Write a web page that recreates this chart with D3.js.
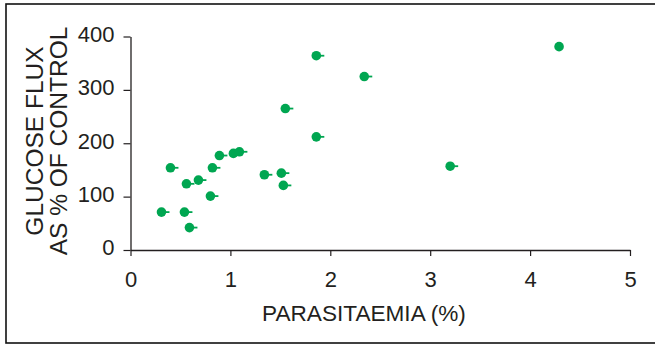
<!DOCTYPE html>
<html>
<head>
<meta charset="utf-8">
<script src="https://cdn.jsdelivr.net/npm/d3@7"></script>
<style>
  html, body { margin: 0; padding: 0; background: #fff; }
  svg { display: block; }
  text { font-family: "Liberation Sans", Arial, Helvetica, sans-serif; fill: #231f20; }
</style>
</head>
<body>
<svg id="chart" width="655" height="345"></svg>
<script>
// Parasitaemia (%) against glucose flux (% of control)
const parasitaemia = [0.31, 0.40, 0.54, 0.56, 0.59, 0.68, 0.80, 0.82, 0.89, 1.03, 1.09, 1.34, 1.51, 1.53, 1.55, 1.86, 1.86, 2.34, 3.20, 4.29];
const glucoseFlux  = [71, 154, 71, 124, 42, 131, 101, 154, 177, 181, 184, 141, 144, 121, 265, 364, 212, 325, 157, 381];
// one-sided horizontal error bars (parasitaemia, %)
const parasitaemiaErr = [0.08, 0.08, 0.08, 0.08, 0.08, 0.08, 0.08, 0.08, 0.08, 0.08, 0.08, 0.08, 0.08, 0.08, 0.08, 0.08, 0.08, 0.08, 0.08, 0];
const xTicks = [0, 1, 2, 3, 4, 5];
const yTicks = [0, 100, 200, 300, 400];
const xTitle = "PARASITAEMIA (%)";
const yTitle = ["GLUCOSE FLUX", "AS % OF CONTROL"];

const ink = "#231f20";
const green = "#00a651";

const svg = d3.select("#chart");

// outer frame
svg.append("rect")
  .attr("x", 6).attr("y", 4)
  .attr("width", 652).attr("height", 339)
  .attr("fill", "none").attr("stroke", "#111").attr("stroke-width", 1.6);

const x = d3.scaleLinear().domain([0, 5]).range([130.5, 630]);
const y = d3.scaleLinear().domain([0, 400]).range([250, 36.5]);

// x axis
const gx = svg.append("g").attr("transform", `translate(0,${y(0)})`)
  .call(d3.axisBottom(x).tickValues(xTicks).tickFormat(d3.format("d")).tickSize(6).tickSizeOuter(0).tickPadding(16));
// y axis
const gy = svg.append("g").attr("transform", `translate(${x(0)},0)`)
  .call(d3.axisLeft(y).tickValues(yTicks).tickSize(7).tickSizeOuter(0).tickPadding(9));

[gx, gy].forEach(g => {
  g.select(".domain").attr("stroke", ink).attr("stroke-width", 1.3);
  g.selectAll(".tick line").attr("stroke", ink).attr("stroke-width", 1.2);
  g.selectAll(".tick text")
    .attr("font-family", "Liberation Sans, Arial, sans-serif")
    .attr("font-size", 22).attr("fill", ink);
});
gy.selectAll(".tick text").attr("dy", "0.22em");
gx.selectAll(".tick text").attr("dy", "0.7em");

// axis titles
svg.append("text")
  .attr("x", 364).attr("y", 320.5)
  .attr("text-anchor", "middle")
  .attr("font-size", 22.6)
  .text(xTitle);

const yt = svg.append("text")
  .attr("transform", `translate(43,141) rotate(-90)`)
  .attr("text-anchor", "middle")
  .attr("font-size", 24.5);
yTitle.forEach((line, i) => {
  yt.append("tspan").attr("x", 0).attr("dy", i === 0 ? 0 : 24).text(line);
});

// points with their error whiskers
const pts = parasitaemia.map((p, i) => ({ p, f: glucoseFlux[i], e: parasitaemiaErr[i] }));
const g = svg.append("g");
g.selectAll("line.err").data(pts.filter(d => d.e > 0)).join("line")
  .attr("class", "err")
  .attr("x1", d => x(d.p)).attr("x2", d => x(d.p + d.e))
  .attr("y1", d => y(d.f)).attr("y2", d => y(d.f))
  .attr("stroke", green).attr("stroke-width", 1.8);
g.selectAll("circle").data(pts).join("circle")
  .attr("cx", d => x(d.p)).attr("cy", d => y(d.f))
  .attr("r", 4.8).attr("fill", green);
</script>
</body>
</html>
